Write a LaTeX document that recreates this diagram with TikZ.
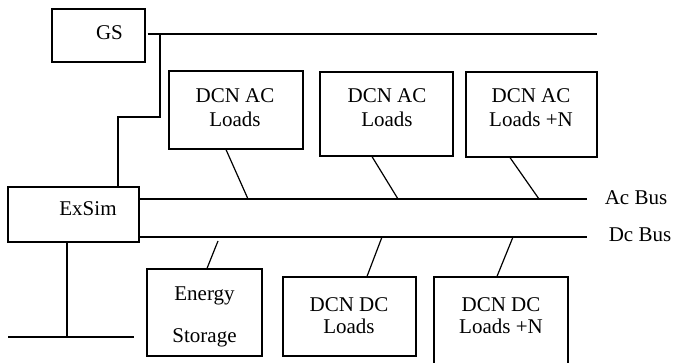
\documentclass[tikz,border=0pt]{standalone}
\usepackage{fontspec}
\setmainfont{Liberation Serif}
\begin{document}
\begin{tikzpicture}[x=1pt,y=-1pt,line width=1.2pt,
  blk/.style={draw,inner sep=0pt},
  txt/.style={anchor=base,inner sep=0pt,font=\fontsize{21}{24}\selectfont}]
\useasboundingbox (0,0) rectangle (677,363);
\clip (0,0) rectangle (677,363);

% blocks
\node[blk,minimum width=93pt,minimum height=53pt]  (gs)    at (98.5,35.5) {};
\node[blk,minimum width=134pt,minimum height=78pt] (ac1)   at (236,110) {};
\node[blk,minimum width=133pt,minimum height=84pt] (ac2)   at (386.5,114) {};
\node[blk,minimum width=131pt,minimum height=85pt] (ac3)   at (531.5,114.5) {};
\node[blk,minimum width=131pt,minimum height=55pt] (exsim) at (73.5,214.5) {};
\node[blk,minimum width=115pt,minimum height=87pt] (es)    at (204.5,312.5) {};
\node[blk,minimum width=133pt,minimum height=79pt] (dc1)   at (349.5,316.5) {};
\node[blk,minimum width=134pt,minimum height=98pt] (dc2)   at (501,326) {};

% labels
\node[txt] (tgs)  at (109.5,40) {GS};
\node[txt] (t1a)  at (235,103) {DCN AC};
\node[txt] (t1b)  at (235,127) {Loads};
\node[txt] (t2a)  at (387,103) {DCN AC};
\node[txt] (t2b)  at (387,127) {Loads};
\node[txt] (t3a)  at (531,103) {DCN AC};
\node[txt] (t3b)  at (531,127) {Loads +N};
\node[txt] (tex)  at (88,216) {ExSim};
\node[txt] (tesa) at (204.5,301) {Energy};
\node[txt] (tesb) at (204.5,342) {Storage};
\node[txt] (t4a)  at (349,311) {DCN DC};
\node[txt] (t4b)  at (349,333) {Loads};
\node[txt] (t5a)  at (501,311) {DCN DC};
\node[txt] (t5b)  at (501,333) {Loads +N};
\node[txt] (tac)  at (636,205) {Ac Bus};
\node[txt] (tdc)  at (640,242) {Dc Bus};

% bus end points and taps
\coordinate (gsend) at (597,34);
\coordinate (j1)    at (160,34);
\coordinate (bend)  at (118,117);
\coordinate (acend) at (587,199);
\coordinate (dcend) at (587,237);
\coordinate (acb1)  at (248,199);
\coordinate (acb2)  at (398,199);
\coordinate (acb3)  at (539,199);
\coordinate (dcb0)  at (218,241);
\coordinate (dcb1)  at (382,237);
\coordinate (dcb2)  at (513,237);
\coordinate (gl)    at (8,337);
\coordinate (gr)    at (134,337);

% generator line and link to ExSim
\draw ([xshift=2pt]gs.east |- gsend) -- (gsend);
\draw (j1) |- (bend) -- (bend |- exsim.north);

% AC and DC buses
\draw (exsim.east |- acend) -- (acend);
\draw (exsim.east |- dcend) -- (dcend);

% load taps
\draw ([xshift=-10pt]ac1.south) -- (acb1);
\draw ([xshift=-14.5pt]ac2.south) -- (acb2);
\draw ([xshift=-21.5pt]ac3.south) -- (acb3);
\draw ([xshift=2.5pt]es.north) -- (dcb0);
\draw ([xshift=17.5pt]dc1.north) -- (dcb1);
\draw ([xshift=-4pt]dc2.north) -- (dcb2);

% ground line under ExSim
\draw (gl) -- (gr);
\draw ([xshift=-6.5pt]exsim.south) -- ([xshift=-6.5pt]exsim.south |- gl);
\end{tikzpicture}
\end{document}
